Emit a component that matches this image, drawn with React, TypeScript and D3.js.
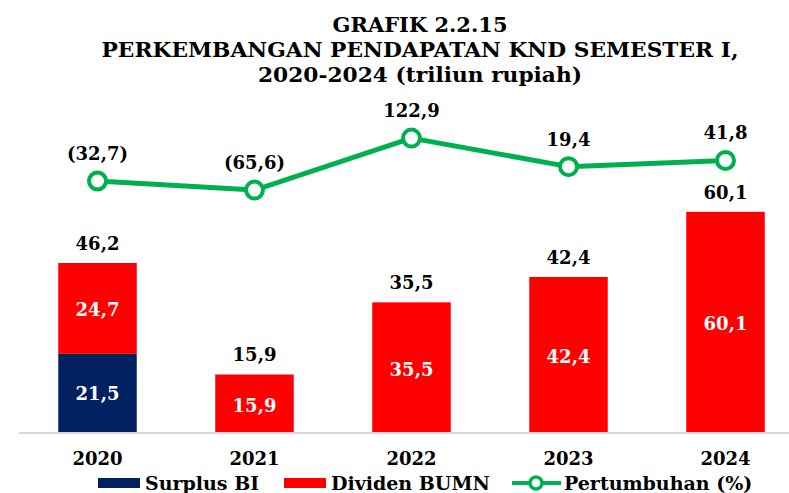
import React from "react";
import * as d3 from "d3";

const years = ["2020", "2021", "2022", "2023", "2024"];
const surplusBI = [21.5, 0, 0, 0, 0];
const dividenBUMN = [24.7, 15.9, 35.5, 42.4, 60.1];
const totals = [46.2, 15.9, 35.5, 42.4, 60.1];
const growth = [-32.7, -65.6, 122.9, 19.4, 41.8];
const growthLabels = ["(32,7)", "(65,6)", "122,9", "19,4", "41,8"];
const titleLines = [
  "GRAFIK 2.2.15",
  "PERKEMBANGAN PENDAPATAN KND SEMESTER I,",
  "2020-2024 (triliun rupiah)",
];

const W = 789;
const H = 493;
const FONT = "'DejaVu Serif', Georgia, serif";
const NAVY = "#002060";
const RED = "#ff0000";
const GREEN = "#00b050";

const fmt = (v: number) => v.toFixed(1).replace(".", ",");

export default function App() {
  const baseY = 433;
  const x = d3
    .scaleBand<string>()
    .domain(years)
    .range([19, 804])
    .paddingInner(0.5)
    .paddingOuter(0.25);
  const y = d3.scaleLinear().domain([0, 80]).range([baseY, baseY - 80 * 3.68]);
  const y2 = d3
    .scaleLinear()
    .domain([-946, 150])
    .range([baseY, baseY - 1096 * 0.2759]);
  const line = d3
    .line<number>()
    .x((_, i) => (x(years[i]) as number) + x.bandwidth() / 2)
    .y((d) => y2(d));

  const titleWidths = [175, 637, 324];
  const titleY = [32, 57, 82];

  return (
    <svg
      width={W}
      height={H}
      style={{ position: "absolute", left: 0, top: 0, background: "#fff" }}
      fontFamily={FONT}
      fontWeight="bold"
    >
      {titleLines.map((t, i) => (
        <text
          key={i}
          x={420}
          y={titleY[i]}
          textAnchor="middle"
          fontSize={20}
          textLength={titleWidths[i]}
          lengthAdjust="spacingAndGlyphs"
          fill="#000"
        >
          {t}
        </text>
      ))}

      {/* bars */}
      {years.map((yr, i) => {
        const bx = x(yr) as number;
        const bw = x.bandwidth();
        const cx = bx + bw / 2;
        const s = surplusBI[i];
        const dv = dividenBUMN[i];
        return (
          <g key={yr}>
            {s > 0 && (
              <rect x={bx} y={y(s)} width={bw} height={y(0) - y(s)} fill={NAVY} />
            )}
            <rect x={bx} y={y(s + dv)} width={bw} height={y(s) - y(s + dv)} fill={RED} />
            {s > 0 && (
              <text x={cx} y={(y(0) + y(s)) / 2 + 7} textAnchor="middle" fontSize={18} fill="#fff">
                {fmt(s)}
              </text>
            )}
            <text x={cx} y={(y(s) + y(s + dv)) / 2 + 8} textAnchor="middle" fontSize={18} fill="#fff">
              {fmt(dv)}
            </text>
            <text x={cx} y={y(totals[i]) - 13} textAnchor="middle" fontSize={18} fill="#000">
              {fmt(totals[i])}
            </text>
            <text x={cx} y={465} textAnchor="middle" fontSize={18} fill="#000">
              {yr}
            </text>
          </g>
        );
      })}

      {/* axis line */}
      <line x1={19} x2={W} y1={baseY} y2={baseY} stroke="#d9d9d9" strokeWidth={2} />

      {/* growth line */}
      <path d={line(growth) as string} fill="none" stroke={GREEN} strokeWidth={5} strokeLinejoin="round" />
      {growth.map((g, i) => {
        const cx = (x(years[i]) as number) + x.bandwidth() / 2;
        return (
          <g key={i}>
            <circle cx={cx} cy={y2(g)} r={8.5} fill="#fff" stroke={GREEN} strokeWidth={4} />
            <text x={cx} y={y2(g) - 21} textAnchor="middle" fontSize={18} fill="#000">
              {growthLabels[i]}
            </text>
          </g>
        );
      })}

      {/* legend */}
      <rect x={98} y={478} width={42} height={10} fill={NAVY} />
      <text x={145} y={490} fontSize={19} fill="#000">Surplus BI</text>
      <rect x={284} y={478} width={42} height={10} fill={RED} />
      <text x={331} y={490} fontSize={19} fill="#000">Dividen BUMN</text>
      <line x1={512} x2={561} y1={483} y2={483} stroke={GREEN} strokeWidth={4} />
      <circle cx={536} cy={483} r={6} fill="#fff" stroke={GREEN} strokeWidth={3.5} />
      <text x={564} y={490} fontSize={19} fill="#000">Pertumbuhan (%)</text>
    </svg>
  );
}
